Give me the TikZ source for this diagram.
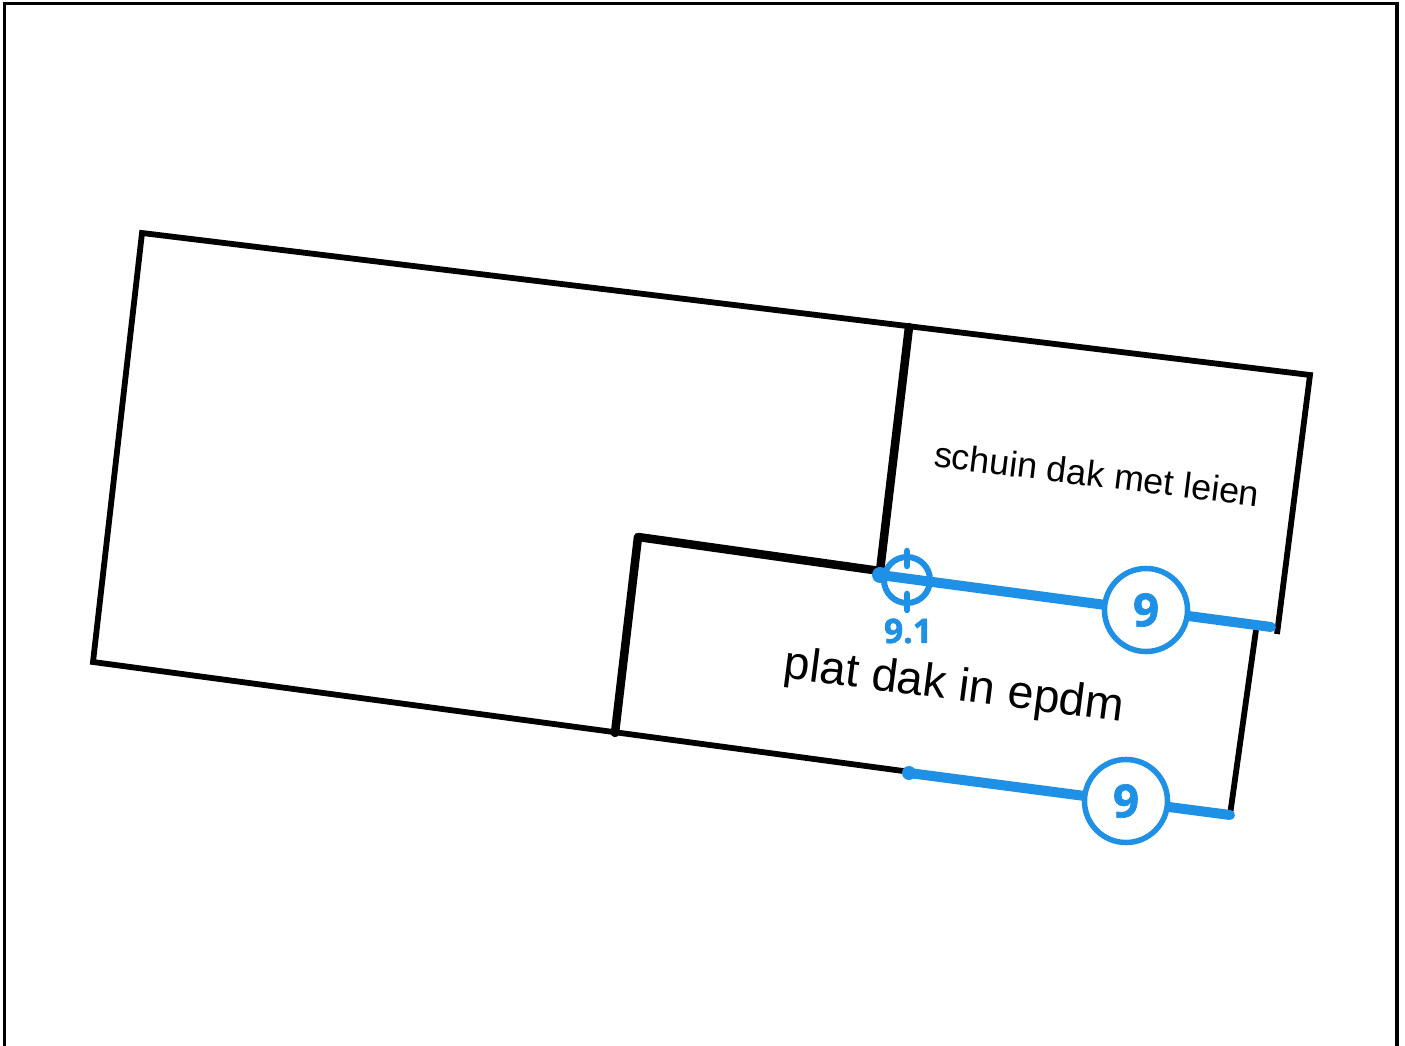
\documentclass[tikz,border=0pt]{standalone}
\usepackage{fontspec}
\setmainfont{Liberation Sans}
\newfontfamily\markfont[BoldFeatures={FakeBold=1.5}]{Open Sans}
\definecolor{markblue}{RGB}{30,144,229}
\tikzset{
  wall/.style={draw=black,line width=0.058cm,line join=miter},
  thickwall/.style={draw=black,line width=0.085cm,line cap=round,line join=round},
  section/.style={draw=markblue,line width=0.1cm,line cap=round},
  sectionmark/.style={circle,draw=markblue,fill=white,line width=0.055cm,minimum size=0.83cm,inner sep=0pt,
    text=markblue,font=\markfont\bfseries\fontsize{13}{13}\selectfont},
  detailmark/.style={circle,draw=markblue,line width=0.06cm,minimum size=0.46cm,inner sep=0pt},
  tick/.style={draw=markblue,line width=0.065cm,line cap=round},
  roofnote/.style={inner sep=0pt,text=black,rotate=-7}
}
\begin{document}
\begin{tikzpicture}[x=0.01cm,y=-0.01cm]
\useasboundingbox (0,0) rectangle (1405,1046);

% Frame
\draw[black,line width=0.035cm] (4.5,1046) -- (4.5,3.5) -- (1397,3.5) -- (1397,1046);

% Roof outline
\coordinate (nw) at (142,233);
\coordinate (ne) at (1310,375);
\coordinate (eup) at (1277,634);
\coordinate (elow) at (1256,630);
\coordinate (se) at (1230,815);
\coordinate (sw) at (93,662);
\draw[wall] (eup) -- (ne) -- (nw) -- (sw) -- (se) -- (elow);

% Roof division
\coordinate (ridge) at (909,327);
\coordinate (corner) at (880,571);
\coordinate (step) at (638,537);
\coordinate (foot) at (615,733);
\draw[thickwall] (ridge) -- (corner) -- (step) -- (foot);

% Roof labels
\node[roofnote,font=\fontsize{10.2}{10.2}\selectfont] (slate) at (1097,474) {schuin dak met leien};
\node[roofnote,rotate=-0.4,font=\fontsize{13.25}{13.25}\selectfont] (flat) at (954,688) {plat dak in epdm};

% Section lines
\coordinate (uppera) at (880,575);
\coordinate (upperb) at (1271,627);
\coordinate (lowera) at (909,773);
\coordinate (lowerb) at (1230,815);
\draw[section] (uppera) -- (upperb);
\draw[section] (lowera) -- (lowerb);
\fill[markblue] (uppera) circle (8);
\fill[markblue] (lowera) circle (7);
\node[sectionmark] (upper) at (1146,610) {9};
\node[sectionmark] (lower) at (1126,801) {9};

% Detail mark
\node[detailmark] (detail) at (907,580) {};
\draw[tick] (907,551) -- (907,566);
\draw[tick] (907,594) -- (907,610);
\node[text=markblue,inner sep=0pt,font=\markfont\bfseries\fontsize{9.6}{9.6}\selectfont] (detaillabel) at (908,631) {9.1};
\end{tikzpicture}
\end{document}
